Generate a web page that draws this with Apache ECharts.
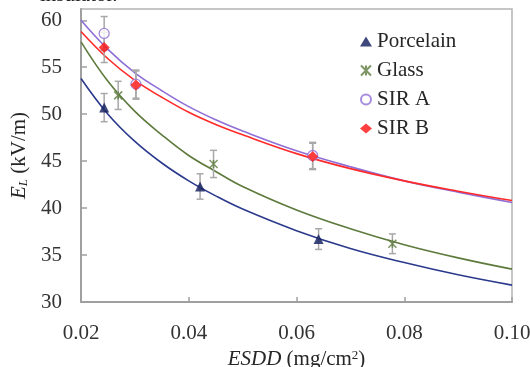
<!DOCTYPE html>
<html>
<head>
<meta charset="utf-8">
<script src="https://cdn.jsdelivr.net/npm/echarts@6/dist/echarts.min.js"></script>
<style>html,body{margin:0;padding:0;background:#fff}#c{width:530px;height:367px}</style>
</head>
<body>
<div id="c"></div>
<script>
// Fitted curves
const curveX = [0.02, 0.025, 0.03, 0.035, 0.04, 0.045, 0.05, 0.06, 0.07, 0.08, 0.09, 0.10];
const porcelainCurve = [53.8, 50.0, 47.1, 44.8, 42.9, 41.3, 39.9, 37.6, 35.7, 34.2, 32.9, 31.8];
const glassCurve = [57.7, 53.5, 50.3, 47.8, 45.6, 43.9, 42.3, 39.8, 37.8, 36.1, 34.7, 33.5];
const sirACurve = [60.0, 56.9, 54.4, 52.5, 50.8, 49.4, 48.2, 46.1, 44.4, 42.9, 41.7, 40.6];
const sirBCurve = [58.8, 55.9, 53.6, 51.8, 50.2, 48.9, 47.8, 45.8, 44.2, 42.9, 41.8, 40.8];

// Measured points with error bars
const porcelainX = [0.0243, 0.0421, 0.0641];
const porcelainY = [50.7, 42.3, 36.7];
const porcelainErr = [1.5, 1.35, 1.1];
const glassX = [0.0269, 0.0446, 0.0778];
const glassY = [52.0, 44.7, 36.2];
const glassErr = [1.5, 1.45, 1.05];
const sirAX = [0.0243, 0.0302, 0.0630];
const sirAY = [58.6, 53.2, 45.6];
const sirAErr = [1.8, 1.5, 1.4];
const sirBX = [0.0243, 0.0302, 0.0630];
const sirBY = [57.1, 53.1, 45.5];
const sirBErr = [1.6, 1.5, 1.4];

const xTicks = [0.02, 0.04, 0.06, 0.08, 0.10];
const yTicks = [30, 35, 40, 45, 50, 55, 60];
const seriesNames = ['Porcelain', 'Glass', 'SIR A', 'SIR B'];

const FONT = "'Liberation Serif', 'Times New Roman', serif";
const colors = {
  porcelainLine: '#2b3a8c', porcelainMark: '#0e1a5c',
  glassLine: '#5d7a3c', glassMark: '#5d7a3c',
  sirALine: '#8f6fd6', sirAMark: '#8f6fd6',
  sirBLine: '#ff2a2a', sirBMark: '#ff1010'
};

function zip(xs, ys) { return xs.map((x, i) => [x, ys[i]]); }
function errData(xs, ys, es) { return xs.map((x, i) => [x, ys[i] - es[i], ys[i] + es[i]]); }

function errSeries(xs, ys, es) {
  return {
    type: 'custom',
    silent: true,
    z: 3,
    data: errData(xs, ys, es),
    renderItem: function (params, api) {
      const lo = api.coord([api.value(0), api.value(1)]);
      const hi = api.coord([api.value(0), api.value(2)]);
      const w = 3.5;
      const st = { stroke: '#a8a8a8', lineWidth: 1.5 };
      return {
        type: 'group',
        children: [
          { type: 'line', shape: { x1: lo[0], y1: lo[1], x2: hi[0], y2: hi[1] }, style: st },
          { type: 'line', shape: { x1: lo[0] - w, y1: lo[1], x2: lo[0] + w, y2: lo[1] }, style: st },
          { type: 'line', shape: { x1: hi[0] - w, y1: hi[1], x2: hi[0] + w, y2: hi[1] }, style: st }
        ]
      };
    }
  };
}

function curveSeries(ys, color, z) {
  return {
    type: 'line', data: zip(curveX, ys), smooth: 0.4, showSymbol: false,
    silent: true, z: z,
    lineStyle: { color: color, width: 1.6 }
  };
}

const starPath = 'path://M0,0L10,10M10,0L0,10M5,0L5,10';

const option = {
  animation: false,
  backgroundColor: '#fff',
  graphic: [{
    type: 'text', x: 40, y: -15,
    style: { text: 'insulator.', font: '21px ' + FONT, fill: '#222' }
  }],
  grid: {
    left: 81, right: 18, top: 9, bottom: 65,
    outerBoundsMode: 'none', containLabel: false,
    show: true, borderColor: '#b4b4b4', borderWidth: 1.5, backgroundColor: 'transparent'
  },
  legend: {
    orient: 'vertical', left: 355, top: 26,
    itemWidth: 12, itemHeight: 10, itemGap: 8,
    data: seriesNames,
    textStyle: { fontFamily: FONT, fontSize: 21, color: '#262626', lineHeight: 20 }
  },
  xAxis: {
    type: 'value', min: 0.02, max: 0.10,
    name: '{i|ESDD} (mg/cm{sup|2})', nameLocation: 'middle', nameGap: 45,
    nameTextStyle: {
      fontFamily: FONT, fontSize: 21, color: '#262626',
      rich: {
        i: { fontFamily: FONT, fontSize: 21, fontStyle: 'italic', color: '#262626' },
        sup: { fontFamily: FONT, fontSize: 13, color: '#262626', verticalAlign: 'top', lineHeight: 14 }
      }
    },
    axisLine: { show: true, lineStyle: { color: '#a0a0a0', width: 2 } },
    axisTick: { show: true, inside: true, length: 5, lineStyle: { color: '#a0a0a0', width: 1.5 }, customValues: xTicks },
    axisLabel: {
      customValues: xTicks, margin: 21,
      fontFamily: FONT, fontSize: 21, color: '#333',
      formatter: v => v.toFixed(2)
    },
    splitLine: { show: false }
  },
  yAxis: {
    type: 'value', min: 30, max: 61.2,
    name: '{i|E}{sub|L} (kV/m)', nameLocation: 'middle', nameGap: 49, nameRotate: 90,
    nameTextStyle: {
      fontFamily: FONT, fontSize: 21, color: '#262626',
      rich: {
        i: { fontFamily: FONT, fontSize: 21, fontStyle: 'italic', color: '#262626' },
        sub: { fontFamily: FONT, fontSize: 13, fontStyle: 'italic', color: '#262626', verticalAlign: 'bottom', lineHeight: 12 }
      }
    },
    axisLine: { show: true, lineStyle: { color: '#a0a0a0', width: 2 } },
    axisTick: { show: true, inside: true, length: 6, lineStyle: { color: '#a0a0a0', width: 1.5 }, customValues: yTicks },
    axisLabel: {
      customValues: yTicks, margin: 19,
      fontFamily: FONT, fontSize: 21, color: '#333'
    },
    splitLine: { show: false }
  },
  series: [
    curveSeries(porcelainCurve, colors.porcelainLine, 2),
    curveSeries(glassCurve, colors.glassLine, 2),
    curveSeries(sirACurve, colors.sirALine, 2),
    curveSeries(sirBCurve, colors.sirBLine, 2),
    errSeries(porcelainX, porcelainY, porcelainErr),
    errSeries(glassX, glassY, glassErr),
    errSeries(sirAX, sirAY, sirAErr),
    errSeries(sirBX, sirBY, sirBErr),
    {
      name: 'Porcelain', type: 'scatter', z: 5, data: zip(porcelainX, porcelainY),
      symbol: 'triangle', symbolSize: 10,
      itemStyle: { color: colors.porcelainMark }
    },
    {
      name: 'Glass', type: 'scatter', z: 5, data: zip(glassX, glassY),
      symbol: starPath, symbolSize: 8,
      itemStyle: { color: 'rgba(0,0,0,0)', borderColor: colors.glassMark, borderWidth: 1.5 }
    },
    {
      name: 'SIR A', type: 'scatter', z: 5, data: zip(sirAX, sirAY),
      symbol: 'circle', symbolSize: 10,
      itemStyle: { color: '#fff', borderColor: colors.sirAMark, borderWidth: 1.3 }
    },
    {
      name: 'SIR B', type: 'scatter', z: 6, data: zip(sirBX, sirBY),
      symbol: 'diamond', symbolSize: 11,
      itemStyle: { color: colors.sirBMark }
    }
  ]
};

const chart = echarts.init(document.getElementById('c'), null, { renderer: 'canvas' });
chart.setOption(option);
</script>
</body>
</html>
